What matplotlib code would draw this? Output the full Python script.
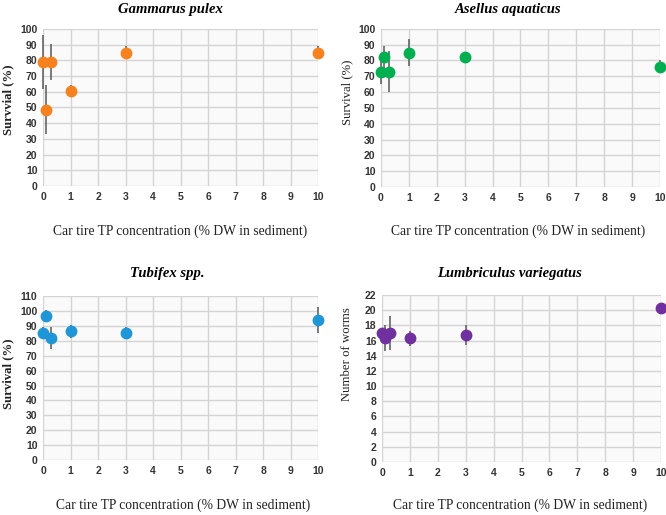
import matplotlib
matplotlib.use("Agg")
import matplotlib.pyplot as plt

# concentrations (% DW in sediment)
conc = [0, 0.1, 0.3, 1, 3, 10]

# Gammarus pulex survival (%)
gam_mean = [79, 48.5, 79, 60.5, 85, 85]
gam_err = [17, 15.5, 11.5, 4, 4, 4]

# Asellus aquaticus survival (%)
ase_mean = [73, 82, 73, 85, 82, 76]
ase_err = [8, 7, 13, 8.5, 1, 4]

# Tubifex spp. survival (%)
tub_mean = [85, 97, 82, 86.5, 85, 94]
tub_err = [4, 4, 7.5, 4.5, 4, 8.5]

# Lumbriculus variegatus number of worms
lum_mean = [17, 16.3, 17, 16.3, 16.7, 20.3]
lum_err = [0.5, 1.7, 2.2, 1, 1.3, 0.3]

xlabel = "Car tire TP concentration (% DW in sediment)"

panels = [
    # title, mean, err, colour, ylim, ystep, ylabel, ylabel bold, axes rect, title xy, xlabel xy, ylabel xy
    ("Gammarus pulex", gam_mean, gam_err, "#F5821F", 100, 10, "Survvial (%)", True,
     [0.0646, 0.6388, 0.413, 0.305], (170, 9), (180, 231), (8, 100)),
    ("Asellus aquaticus", ase_mean, ase_err, "#00B050", 100, 10, "Survival (%)", False,
     [0.572, 0.637, 0.419, 0.307], (508, 9), (518, 231), (347, 92)),
    ("Tubifex spp.", tub_mean, tub_err, "#1E96D7", 110, 10, "Survival (%)", True,
     [0.0646, 0.1068, 0.413, 0.318], (167, 274), (183, 505), (8, 374)),
    ("Lumbriculus variegatus", lum_mean, lum_err, "#7030A0", 22, 2, "Number of worms", False,
     [0.5736, 0.1029, 0.419, 0.324], (510, 274), (520, 505), (347, 354)),
]

W, H = 666, 515
fig = plt.figure(figsize=(W / 100, H / 100), dpi=100)
fig.patch.set_facecolor("white")

for (title, mean, err, col, ymax, ystep, ylab, ybold, rect, txy, xxy, yxy) in panels:
    ax = fig.add_axes(rect)
    ax.set_facecolor("#fafafa")
    ax.errorbar(conc, mean, yerr=err, fmt="o", color=col, ms=7.5,
                ecolor="#595959", elinewidth=1.1, capsize=0, zorder=3,
                clip_on=False)
    ax.set_xlim(0, 10)
    ax.set_ylim(0, ymax)
    ax.set_xticks(range(0, 11))
    ax.set_yticks(range(0, ymax + 1, ystep))
    ax.grid(True, color="#d4d4d4", linewidth=1.0, zorder=0)
    ax.set_axisbelow(True)
    for s in ax.spines.values():
        s.set_visible(False)
    ax.tick_params(length=0, pad=4, labelsize=7.5, labelcolor="#333333")
    for lab in ax.get_xticklabels() + ax.get_yticklabels():
        lab.set_fontweight("bold")
        lab.set_family("Liberation Sans")

    fig.text(txy[0] / W, 1 - txy[1] / H, title, ha="center", va="center",
             family="Liberation Serif", style="italic", weight="bold", fontsize=10.5)
    fig.text(xxy[0] / W, 1 - xxy[1] / H, xlabel, ha="center", va="center",
             family="Liberation Serif", fontsize=9.8, color="#222222")
    fig.text(yxy[0] / W, 1 - yxy[1] / H, ylab, ha="center", va="center", rotation=90,
             family="Liberation Serif", fontsize=9.2, color="#222222",
             weight="bold" if ybold else "normal")

fig.savefig("out.png", dpi=100, facecolor="white")
